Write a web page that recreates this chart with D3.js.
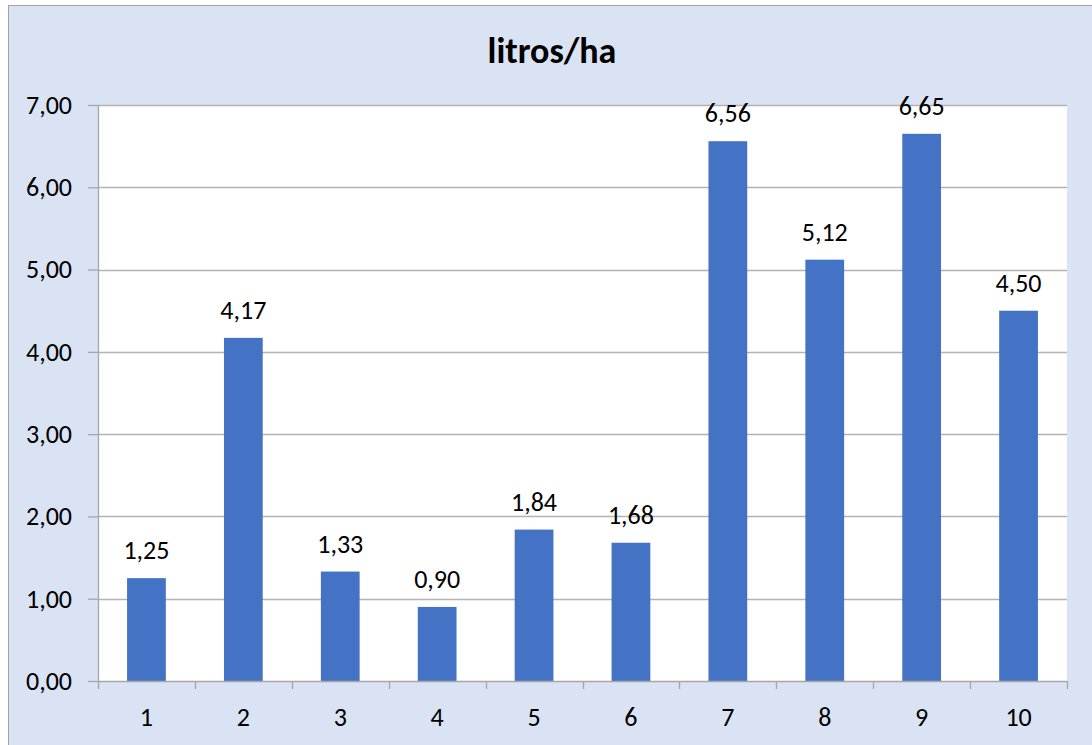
<!DOCTYPE html>
<html>
<head>
<meta charset="utf-8">
<script src="https://cdn.jsdelivr.net/npm/d3@7"></script>
<style>
  body { margin: 0; background: #fff; }
  text { font-family: Carlito, Lato, sans-serif; fill: #000; }
</style>
</head>
<body>
<svg id="canvas" width="1092" height="745"></svg>
<script>
// Data
var categories = ["1", "2", "3", "4", "5", "6", "7", "8", "9", "10"];
var values = [1.25, 4.17, 1.33, 0.90, 1.84, 1.68, 6.56, 5.12, 6.65, 4.50];
var yTicks = [0, 1, 2, 3, 4, 5, 6, 7];
var title = "litros/ha";

var svg = d3.select("#canvas");

// comma decimals
var locale = d3.formatLocale({decimal: ",", thousands: ".", grouping: [3], currency: ["", ""]});
var fmt = locale.format(".2f");

// chart area background
svg.append("rect")
    .attr("x", 8.5).attr("y", 5.5)
    .attr("width", 1100).attr("height", 760)
    .attr("fill", "#dae3f3")
    .attr("stroke", "#a3a3a3");

// Margin setup (plot area)
var margin = {top: 105, right: 25, bottom: 64, left: 98};
var width = 1092 - margin.left - margin.right;
var height = 745 - margin.top - margin.bottom;

var g = svg.append("g")
    .attr("transform", "translate(" + margin.left + "," + margin.top + ")");

g.append("rect")
    .attr("width", width).attr("height", height)
    .attr("fill", "#fff");

// Scales
var x = d3.scaleBand()
    .domain(categories)
    .range([0, width])
    .paddingInner(0.6)
    .paddingOuter(0.3);
var y = d3.scaleLinear()
    .domain([0, 7])
    .range([height, 0]);

// Gridlines
g.selectAll(".grid")
    .data(yTicks.filter(function(d){ return d > 0; }))
    .enter().append("line")
    .attr("class", "grid")
    .attr("x1", 0).attr("x2", width)
    .attr("y1", function(d){ return Math.round(y(d)) + 0.5; })
    .attr("y2", function(d){ return Math.round(y(d)) + 0.5; })
    .attr("stroke", "#b3b3b3")
    .attr("stroke-width", 1.3);

// Bars
g.selectAll(".bar")
    .data(values)
    .enter().append("rect")
    .attr("class", "bar")
    .attr("x", function(d, i){ return x(categories[i]); })
    .attr("width", x.bandwidth())
    .attr("y", function(d){ return y(d); })
    .attr("height", function(d){ return height - y(d); })
    .attr("fill", "#4472c4");

// Y axis
var yAxis = g.append("g")
    .call(d3.axisLeft(y).tickValues(yTicks).tickFormat(fmt).tickSize(10).tickPadding(16));
yAxis.selectAll("line, path").attr("stroke", "#a6a6a6").attr("stroke-width", 1.3);
yAxis.select(".domain").attr("d", "M0.5,0V" + height);
yAxis.selectAll("text")
    .style("font-size", "26px")
    .style("font-family", "Carlito, Lato, sans-serif")
    .attr("fill", "#000");

// X axis: labels centered in categories, ticks on category boundaries
var xAxis = g.append("g")
    .attr("transform", "translate(0," + height + ")")
    .call(d3.axisBottom(x).tickSize(0).tickPadding(27));
xAxis.select(".domain").remove();
xAxis.selectAll("text")
    .style("font-size", "26px")
    .style("font-family", "Carlito, Lato, sans-serif")
    .attr("fill", "#000");

var boundaries = d3.range(categories.length + 1).map(function(i){ return i * x.step(); });
g.append("line")
    .attr("x1", 0).attr("x2", width)
    .attr("y1", height + 0.5).attr("y2", height + 0.5)
    .attr("stroke", "#a6a6a6").attr("stroke-width", 1.3);
g.selectAll(".xtick")
    .data(boundaries)
    .enter().append("line")
    .attr("class", "xtick")
    .attr("x1", function(d){ return Math.round(d) + 0.5; })
    .attr("x2", function(d){ return Math.round(d) + 0.5; })
    .attr("y1", height).attr("y2", height + 8)
    .attr("stroke", "#a6a6a6").attr("stroke-width", 1.3);

// Data labels
g.selectAll(".label")
    .data(values)
    .enter().append("text")
    .attr("class", "label")
    .attr("x", function(d, i){ return x(categories[i]) + x.bandwidth() / 2; })
    .attr("y", function(d){ return y(d) - 19; })
    .attr("text-anchor", "middle")
    .style("font-size", "26px")
    .text(function(d){ return fmt(d); });

// Title
svg.append("text")
    .attr("x", 552)
    .attr("y", 63)
    .attr("text-anchor", "middle")
    .style("font-size", "36px")
    .style("font-weight", "bold")
    .text(title);
</script>
</body>
</html>
